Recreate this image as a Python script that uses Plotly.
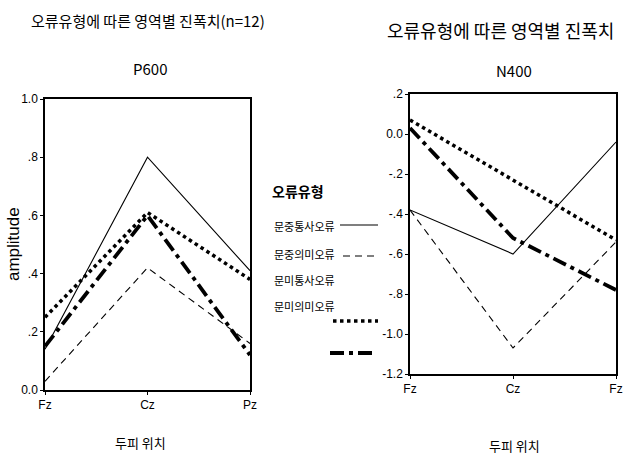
import plotly.graph_objects as go

W, H = 624, 459

series_names = ["문중통사오류", "문중의미오류", "문미통사오류", "문미의미오류"]
x_pos = [0, 1, 2]
p600_ticks = ["Fz", "Cz", "Pz"]
n400_ticks = ["Fz", "Cz", "Fz"]

p600_values = [
    [0.14, 0.80, 0.41],
    [0.03, 0.42, 0.16],
    [0.25, 0.61, 0.38],
    [0.15, 0.60, 0.12],
]
n400_values = [
    [-0.38, -0.60, -0.04],
    [-0.38, -1.07, -0.54],
    [0.07, -0.23, -0.53],
    [0.03, -0.52, -0.78],
]

p600_yticks = [0.0, 0.2, 0.4, 0.6, 0.8, 1.0]
p600_yticklabels = ["0.0", ".2", ".4", ".6", ".8", "1.0"]
n400_yticks = [0.2, 0.0, -0.2, -0.4, -0.6, -0.8, -1.0, -1.2]
n400_yticklabels = [".2", "0.0", "-.2", "-.4", "-.6", "-.8", "-1.0", "-1.2"]

styles = [
    dict(width=1.1, dash="solid"),
    dict(width=1.1, dash="7px,5px"),
    dict(width=3.5, dash="dot"),
    dict(width=3.8, dash="14px,5px,4px,5px"),
]

fig = go.Figure()
for i, name in enumerate(series_names):
    fig.add_trace(go.Scatter(x=x_pos, y=p600_values[i], mode="lines", name=name,
                             line=dict(color="black", **styles[i]), showlegend=False,
                             xaxis="x", yaxis="y"))
    fig.add_trace(go.Scatter(x=x_pos, y=n400_values[i], mode="lines", name=name,
                             line=dict(color="black", **styles[i]), showlegend=False,
                             xaxis="x2", yaxis="y2"))

def px_x(p):
    return p / W

def px_y(p):
    return 1 - p / H

tickfont = dict(family="Liberation Sans Narrow, Liberation Sans, sans-serif", size=12, color="black")
axis_common = dict(showgrid=False, zeroline=False, showline=True, linecolor="black", linewidth=1.5,
                   mirror=True, ticks="outside", ticklen=3, tickcolor="black", tickfont=tickfont,
                   automargin=False)

fig.update_layout(
    width=W, height=H,
    margin=dict(l=0, r=0, t=0, b=0, pad=0),
    paper_bgcolor="white", plot_bgcolor="white",
    xaxis=dict(domain=[px_x(45), px_x(250)], range=[0, 2], tickvals=x_pos, ticktext=p600_ticks,
               anchor="y", **axis_common),
    yaxis=dict(domain=[px_y(390), px_y(99)], range=[0, 1.0], tickvals=p600_yticks,
               ticktext=p600_yticklabels, anchor="x", **axis_common),
    xaxis2=dict(domain=[px_x(410), px_x(616)], range=[0, 2], tickvals=x_pos, ticktext=n400_ticks,
                anchor="y2", **axis_common),
    yaxis2=dict(domain=[px_y(374), px_y(94)], range=[-1.2, 0.2], tickvals=n400_yticks,
                ticktext=n400_yticklabels, anchor="x2", **axis_common),
)

kfont = "Noto Sans CJK KR, sans-serif"
ann = [
    dict(text="오류유형에 따른 영역별 진폭치(n=12)", x=px_x(148), y=px_y(20), size=15),
    dict(text="P600", x=px_x(150), y=px_y(68), size=15),
    dict(text="오류유형에 따른 영역별 진폭치", x=px_x(500), y=px_y(30), size=18),
    dict(text="N400", x=px_x(514), y=px_y(70), size=15),
    dict(text="두피 위치", x=px_x(140), y=px_y(442), size=13),
    dict(text="두피 위치", x=px_x(514), y=px_y(445), size=13),
    dict(text="<b>오류유형</b>", x=px_x(298), y=px_y(191), size=14),
    dict(text="문중통사오류", x=px_x(304), y=px_y(226), size=11),
    dict(text="문중의미오류", x=px_x(304), y=px_y(254), size=11),
    dict(text="문미통사오류", x=px_x(304), y=px_y(280), size=11),
    dict(text="문미의미오류", x=px_x(304), y=px_y(306), size=11),
]
for a in ann:
    fig.add_annotation(text=a["text"], x=a["x"], y=a["y"], xref="paper", yref="paper",
                       showarrow=False, xanchor="center", yanchor="middle",
                       font=dict(family=kfont, size=a["size"], color="black"))

fig.add_annotation(text="amplitude", x=px_x(13), y=px_y(244), xref="paper", yref="paper",
                   showarrow=False, textangle=-90, xanchor="center", yanchor="middle",
                   font=dict(family="Liberation Sans, Arial, sans-serif", size=17, color="black"))

legend_lines = [
    (340, 378, 225),
    (343, 378, 256),
    (333, 378, 321),
    (330, 376, 353),
]
for (x0, x1, yy), st in zip(legend_lines, styles):
    fig.add_shape(type="line", xref="paper", yref="paper", x0=px_x(x0), x1=px_x(x1),
                  y0=px_y(yy), y1=px_y(yy), line=dict(color="black", **st))

fig.write_html("out.html", config={"displayModeBar": False},
               post_script="document.body.style.margin='0';document.body.style.overflow='hidden';")
